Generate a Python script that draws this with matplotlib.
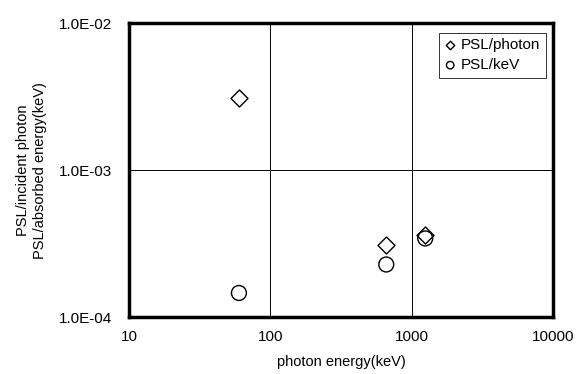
import matplotlib
matplotlib.use("Agg")
import matplotlib.pyplot as plt
from matplotlib.ticker import FixedLocator, FuncFormatter, NullLocator

plt.rcParams['font.family'] = ['Liberation Sans', 'DejaVu Sans']

energy = [60, 662, 1250]
psl_photon = [3.1e-3, 3.1e-4, 3.6e-4]
psl_kev = [1.46e-4, 2.28e-4, 3.43e-4]
xticks = [10, 100, 1000, 10000]
yticks = [1e-4, 1e-3, 1e-2]
ytick_labels = ["1.0E-04", "1.0E-03", "1.0E-02"]

fig = plt.figure(figsize=(5.85, 3.74), dpi=100)
ax = fig.add_axes([0.2205, 0.152, 0.7245, 0.7865])
ax.set_xscale('log')
ax.set_yscale('log')
ax.set_xlim(10, 10000)
ax.set_ylim(1e-4, 1e-2)

ax.scatter(energy, psl_photon, marker='D', s=75, facecolors='white', edgecolors='black', linewidths=1.0, label='PSL/photon', zorder=3)
ax.scatter(energy, psl_kev, marker='o', s=115, facecolors='none', edgecolors='black', linewidths=1.0, label='PSL/keV', zorder=3)

ax.xaxis.set_major_locator(FixedLocator(xticks))
ax.xaxis.set_minor_locator(NullLocator())
ax.xaxis.set_major_formatter(FuncFormatter(lambda v, p: f"{int(round(v))}"))
ax.yaxis.set_major_locator(FixedLocator(yticks))
ax.yaxis.set_minor_locator(NullLocator())
ax.yaxis.set_major_formatter(FuncFormatter(lambda v, p: ytick_labels[yticks.index(min(yticks, key=lambda t: abs(t - v)))]))
ax.tick_params(axis='y', length=0, labelsize=11, pad=12)
ax.tick_params(axis='x', length=0, labelsize=11, pad=9)
ax.grid(True, which='major', color='black', linewidth=0.7)
for s in ax.spines.values():
    s.set_linewidth(2.5)

ax.set_xlabel('photon energy(keV)', fontsize=10.5, labelpad=8)
ax.set_ylabel('PSL/incident photon\nPSL/absorbed energy(keV)', fontsize=10.5, labelpad=9)

leg = ax.legend(loc='upper right', bbox_to_anchor=(0.983, 0.967), frameon=True, fancybox=False,
                edgecolor='black', fontsize=11, handletextpad=0.3, borderpad=0.35,
                labelspacing=0.4, markerscale=0.5, borderaxespad=0.0, handlelength=0.8)
leg.get_frame().set_linewidth(0.7)

fig.savefig('out.png', dpi=100)
